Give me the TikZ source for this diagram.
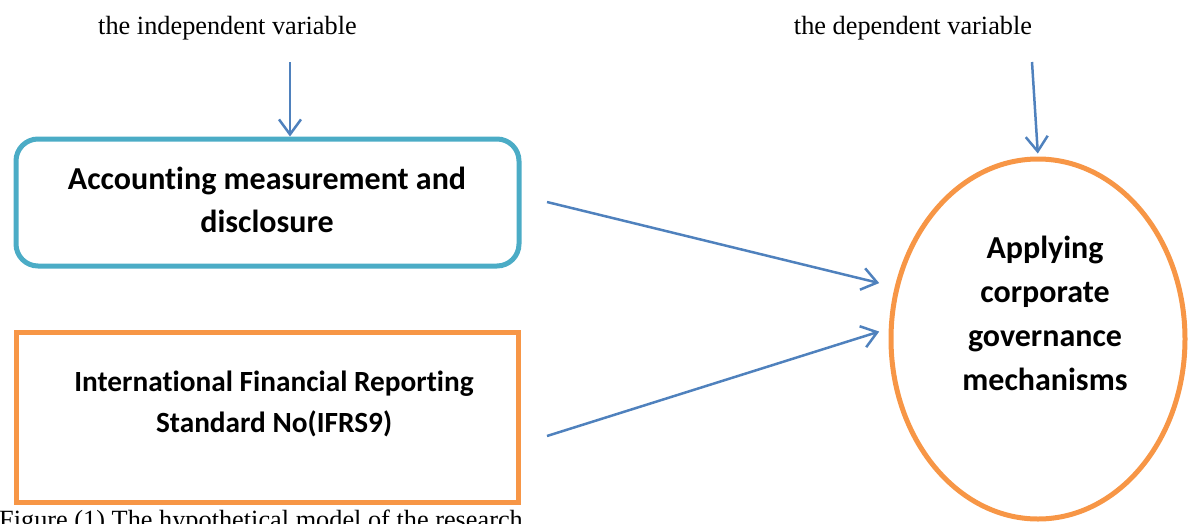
\documentclass[tikz,border=0pt]{standalone}
\usepackage{fontspec}
\setmainfont{Liberation Serif}
\newfontfamily\calibri[Ligatures={NoCommon}]{Carlito}
\usetikzlibrary{arrows.meta,shapes.geometric}

\definecolor{arrowblue}{HTML}{4F81BD}
\definecolor{boxcyan}{HTML}{4BACC6}
\definecolor{boxorange}{HTML}{F79646}

\tikzset{
  varlabel/.style={font=\fontsize{26.3}{30}\selectfont, inner sep=0pt, anchor=base},
  boldtext/.style 2 args={font=\calibri\bfseries\fontsize{#1}{#2}\selectfont, align=center, inner sep=0pt},
  accbox/.style={draw=boxcyan, line width=5pt, rounded corners=22pt},
  ifrsbox/.style={draw=boxorange, line width=5pt},
  govellipse/.style={draw=boxorange, line width=5pt, ellipse, inner sep=0pt},
  link/.style={draw=arrowblue, line width=2.5pt,
    -{Straight Barb[length=15pt, width=22pt, line width=2.5pt]}},
}

\begin{document}
\begin{tikzpicture}[x=1pt, y=-1pt]
  \useasboundingbox (0,0) rectangle (1189,523);
  \clip (0,0) rectangle (1189,523);

  % variable labels
  \node[varlabel] (indep) at (227.5,34) {the independent variable};
  \node[varlabel] (dep) at (913,34) {the dependent variable};

  % independent variables
  \node[accbox, minimum width=503pt, minimum height=127pt] (acc) at (267.5,202.5) {};
  \node[boldtext={32}{43}] (acctext) at (267,200) {Accounting measurement and\\disclosure};

  \node[ifrsbox, minimum width=502pt, minimum height=170pt] (ifrs) at (267.5,417.5) {};
  \node[boldtext={29.3}{41}] (ifrstext) at (274,404) {International Financial Reporting\\Standard No(IFRS9)};

  % dependent variable
  \node[govellipse, minimum width=294pt, minimum height=360pt] (gov) at (1038,339) {};
  \node[boldtext={32}{44}] (govtext) at (1045,313) {Applying\\corporate\\governance\\mechanisms};

  % caption
  \node[font=\fontsize{26.3}{30}\selectfont, inner sep=0pt, anchor=base west] (cap) at (-1,528)
    {Figure (1) The hypothetical model of the research};

  % connectors
  \coordinate (s1) at (290,62);
  \coordinate (s2) at (1032,62);
  \coordinate (s3) at (547,202);
  \coordinate (s4) at (547,436);

  \draw[link] (s1) -- (s1 |- acc.north);
  \draw[link, shorten >=3pt] (s2) -- (gov.north);
  \draw[link, shorten >=16pt] (s3) -- (gov.160.9);
  \draw[link, shorten >=10pt] (s4) -- (gov.176.8);
\end{tikzpicture}
\end{document}
